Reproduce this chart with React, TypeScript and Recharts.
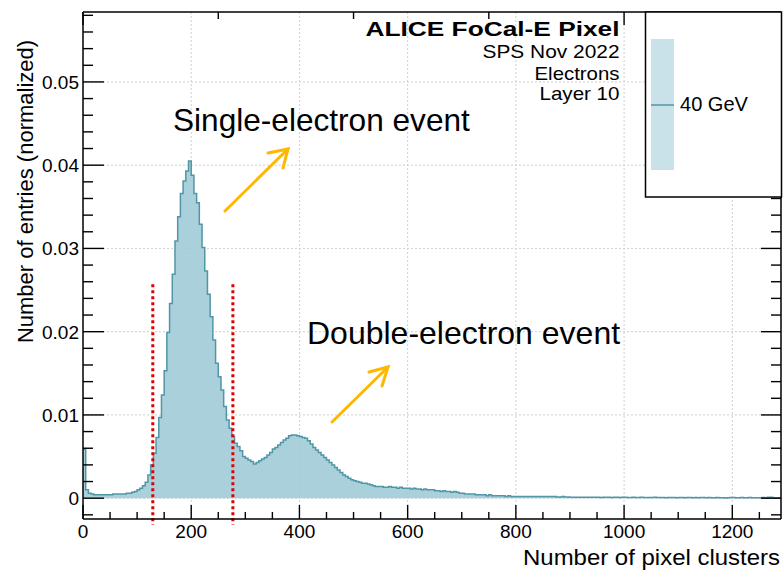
import React from 'react';
import { AreaChart, Area, XAxis, YAxis, CartesianGrid, ReferenceLine } from 'recharts';

// ---------- data ----------
const BIN_WIDTH = 5;
const X_MAX = 1290;
const Y_DOMAIN: [number, number] = [-0.0025, 0.0584];

// normalized entries per 5-cluster bin
const entriesLow = [
  0.0059, 0.0010, 0.0006, 0.0005, 0.0004, 0.0004, 0.0004, 0.0004, 0.0004, 0.0004,
  0.0004, 0.0005, 0.0005, 0.0005, 0.0005, 0.0005, 0.0006, 0.0006, 0.0007, 0.0008,
  0.0010, 0.0012, 0.0015, 0.0019, 0.0028, 0.0040, 0.0054, 0.0073, 0.0097, 0.0124,
];
const entriesPeak = [
  0.0153, 0.0199, 0.0234, 0.0269, 0.0309, 0.0338, 0.0366, 0.0381, 0.0393, 0.0405,
  0.0388, 0.0366, 0.0355, 0.0329, 0.0301, 0.0273, 0.0245, 0.0218, 0.0190, 0.0162,
  0.0146, 0.0130, 0.0110, 0.0094, 0.0084, 0.0074, 0.0066, 0.0062, 0.0057, 0.0050,
];
const entriesSecond = [
  0.0048, 0.0046, 0.0044, 0.0041, 0.0043, 0.0045, 0.0047, 0.0049, 0.0052, 0.0055,
  0.0059, 0.0061, 0.0064, 0.0067, 0.0070, 0.0072, 0.0075, 0.0076, 0.0076, 0.0075,
  0.0074, 0.0073, 0.0072, 0.0069, 0.0065, 0.0061, 0.0058, 0.0055, 0.0052, 0.0049,
  0.0046, 0.0043, 0.0040, 0.0037, 0.0034, 0.0031, 0.0028, 0.0026, 0.0024, 0.0022,
];
const entriesTail = [
  0.0021, 0.0020, 0.0019, 0.0018, 0.0018, 0.0017, 0.0016, 0.0015, 0.0014, 0.0014,
  0.0014, 0.0013, 0.0013, 0.0014, 0.0013, 0.0013, 0.0012, 0.0013, 0.0012, 0.0012,
  0.0012, 0.0011, 0.0012, 0.0011, 0.0011, 0.0010, 0.0011, 0.0010, 0.0010, 0.0010,
  0.0009, 0.0009, 0.0008, 0.0009, 0.0008, 0.0008, 0.0007, 0.0008, 0.0007, 0.0006,
  0.0006, 0.0005, 0.0005, 0.0005, 0.0005, 0.0004, 0.0004, 0.0004, 0.0004, 0.0003,
  0.0004, 0.0003, 0.0003, 0.0003, 0.0003, 0.0003, 0.0002, 0.0003, 0.0002, 0.0002,
  0.0002, 0.0002, 0.0002, 0.0002, 0.0002, 0.0002, 0.0002, 0.0002, 0.0002, 0.0002,
  0.0002, 0.0002, 0.0002, 0.0002, 0.0002, 0.00015, 0.00015, 0.0002, 0.00015, 0.00015,
];
const entriesFar = [
  0.00012, 0.00012, 0.0001, 0.00012, 0.0001, 0.0001, 0.00012, 0.0001, 0.0001, 0.0001,
  0.0001, 0.00008, 0.0001, 0.0001, 0.0001, 0.00008, 0.0001, 0.0001, 0.00008, 0.0001,
  0.0001, 0.00008, 0.00008, 0.0001, 0.00008, 0.00008, 0.0001, 0.00008, 0.00008, 0.00008,
  0.00008, 0.0001, 0.00008, 0.00008, 0.00008, 0.00006, 0.00008, 0.00008, 0.00008, 0.00006,
  0.00008, 0.00008, 0.00006, 0.00008, 0.00008, 0.00006, 0.00008, 0.00006, 0.00008, 0.00008,
  0.00006, 0.00008, 0.00006, 0.00006, 0.00008, 0.00006, 0.00004, 0.00002, 0.00004, 0.00008,
  0.00008, 0.00006, 0.00006, 0.00008, 0.00006, 0.00006, 0.00008, 0.00006, 0.00006, 0.00006,
  0.00006, 0.00008, 0.00004, 0.0001, 0.00012, 0.00004, 0.00002, 0.00006,
];

const entries = [...entriesLow, ...entriesPeak, ...entriesSecond, ...entriesTail, ...entriesFar];
const binStarts = entries.map((_, i) => i * BIN_WIDTH);
const histData = [
  ...binStarts.map((x, i) => ({ x, y: entries[i] })),
  { x: X_MAX, y: entries[entries.length - 1] },
];

// ticks
const xMajorTicks = [0, 200, 400, 600, 800, 1000, 1200];
const xAllTicks = Array.from({ length: 26 }, (_, i) => i * 50);
const yMajorTicks = [0, 0.01, 0.02, 0.03, 0.04, 0.05];
const yAllTicks = Array.from({ length: 31 }, (_, i) => +(-0.002 + i * 0.002).toFixed(3));

// selection cuts (red dotted)
const cutLow = 129;
const cutHigh = 277;
const cutTop = 0.0257;
const cutBottom = -0.0032;

const FONT = '"Liberation Sans", Arial, Helvetica, sans-serif';
const isMajorX = (v: number) => v % 200 === 0;
const isMajorY = (v: number) => Math.abs(v * 100 - Math.round(v * 100)) < 1e-6;
const fmtY = (v: number) => (Math.abs(v) < 1e-9 ? '0' : v.toFixed(2));

const BottomTick = (props: any) => {
  const { x, y, payload } = props;
  const v = payload.value;
  const major = isMajorX(v);
  return (
    <g>
      <line x1={x} x2={x} y1={y} y2={y - (major ? 14 : 7)} stroke="#000" strokeWidth={1.4} />
      {major && (
        <text x={x} y={y + 19} textAnchor="middle" fontSize={19} fontFamily={FONT} fill="#000">
          {v}
        </text>
      )}
    </g>
  );
};

const TopTick = (props: any) => {
  const { x, y, payload } = props;
  const major = isMajorX(payload.value);
  return <line x1={x} x2={x} y1={y} y2={y + (major ? 13 : 7)} stroke="#000" strokeWidth={1.4} />;
};

const LeftTick = (props: any) => {
  const { x, y, payload } = props;
  const v = payload.value;
  const major = isMajorY(v);
  return (
    <g>
      <line x1={x} x2={x + (major ? 21 : 10)} y1={y} y2={y} stroke="#000" strokeWidth={1.4} />
      {major && (
        <text x={x - 4} y={y} dy="0.36em" textAnchor="end" fontSize={19} fontFamily={FONT} fill="#000">
          {fmtY(v)}
        </text>
      )}
    </g>
  );
};

const RightTick = (props: any) => {
  const { x, y, payload } = props;
  const major = isMajorY(payload.value);
  return <line x1={x} x2={x - (major ? 20 : 10)} y1={y} y2={y} stroke="#000" strokeWidth={1.4} />;
};

const ORANGE = '#FFB800';

export default function App() {
  return (
    <div style={{ position: 'absolute', left: 0, top: 0, width: 784, height: 571, background: '#fff' }}>
      <AreaChart
        width={784}
        height={571}
        data={histData}
        margin={{ top: 0, right: 0, bottom: 0, left: 0 }}
      >
        <CartesianGrid
          stroke="#cfcfcf"
          strokeDasharray="2 2"
          horizontalValues={yMajorTicks}
          verticalValues={xMajorTicks.filter((v) => v > 0)}
        />
        <XAxis
          dataKey="x"
          type="number"
          domain={[0, X_MAX]}
          allowDataOverflow
          ticks={xAllTicks}
          interval={0}
          tickSize={0}
          tickMargin={0}
          tickLine={false}
          height={52}
          axisLine={{ stroke: '#000', strokeWidth: 1.5 }}
          tick={<BottomTick />}
        />
        <XAxis
          xAxisId="top"
          orientation="top"
          type="number"
          domain={[0, X_MAX]}
          allowDataOverflow
          ticks={xAllTicks}
          interval={0}
          tickSize={0}
          tickMargin={0}
          tickLine={false}
          height={12}
          axisLine={{ stroke: '#000', strokeWidth: 1.5 }}
          tick={<TopTick />}
        />
        <YAxis
          type="number"
          domain={Y_DOMAIN}
          allowDataOverflow
          ticks={yAllTicks}
          interval={0}
          tickSize={0}
          tickMargin={0}
          tickLine={false}
          width={83}
          axisLine={{ stroke: '#000', strokeWidth: 1.5 }}
          tick={<LeftTick />}
        />
        <YAxis
          yAxisId="right"
          orientation="right"
          type="number"
          domain={Y_DOMAIN}
          allowDataOverflow
          ticks={yAllTicks}
          interval={0}
          tickSize={0}
          tickMargin={0}
          tickLine={false}
          width={3}
          axisLine={{ stroke: '#000', strokeWidth: 1.5 }}
          tick={<RightTick />}
        />
        <Area
          type="stepAfter"
          dataKey="y"
          stroke="#5096a6"
          strokeWidth={1.5}
          fill="#a1cbd8"
          fillOpacity={0.9}
          isAnimationActive={false}
          dot={false}
          activeDot={false}
        />
        <ReferenceLine
          segment={[{ x: cutLow, y: cutTop }, { x: cutLow, y: cutBottom }]}
          stroke="#e00000"
          strokeWidth={3}
          strokeDasharray="3 3"
          ifOverflow="visible"
        />
        <ReferenceLine
          segment={[{ x: cutHigh, y: cutTop }, { x: cutHigh, y: cutBottom }]}
          stroke="#e00000"
          strokeWidth={3}
          strokeDasharray="3 3"
          ifOverflow="visible"
        />
      </AreaChart>

      <svg
        width={784}
        height={571}
        style={{ position: 'absolute', left: 0, top: 0, pointerEvents: 'none' }}
        fontFamily={FONT}
      >
        {/* axis titles */}
        <text x={33} y={191.5} transform="rotate(-90 33 191.5)" textAnchor="middle" fontSize={22} fill="#000">
          Number of entries (normalized)
        </text>
        <text x={780} y={565} textAnchor="end" fontSize={22} fill="#000" textLength={257} lengthAdjust="spacingAndGlyphs">
          Number of pixel clusters
        </text>

        {/* header */}
        <text x={619.5} y={35.5} textAnchor="end" fontSize={21} fontWeight="bold" fill="#000" textLength={254} lengthAdjust="spacingAndGlyphs">
          ALICE FoCal-E Pixel
        </text>
        <text x={619.5} y={57.5} textAnchor="end" fontSize={19} fill="#000" textLength={137} lengthAdjust="spacingAndGlyphs">
          SPS Nov 2022
        </text>
        <text x={619.5} y={80} textAnchor="end" fontSize={19} fill="#000" textLength={85} lengthAdjust="spacingAndGlyphs">
          Electrons
        </text>
        <text x={619.5} y={100} textAnchor="end" fontSize={19} fill="#000" textLength={80} lengthAdjust="spacingAndGlyphs">
          Layer 10
        </text>

        {/* legend */}
        <rect x={645.5} y={12} width={136} height={185} fill="#fff" stroke="#000" strokeWidth={1.5} />
        <rect x={651} y={39} width={23} height={131} fill="#c9e2ea" />
        <line x1={651} x2={674} y1={105} y2={105} stroke="#5096a6" strokeWidth={1.5} />
        <text x={680} y={110.5} fontSize={20.5} fill="#000" textLength={68} lengthAdjust="spacingAndGlyphs">
          40 GeV
        </text>

        {/* annotations */}
        <text x={173} y={131} fontSize={31.6} fill="#000">
          Single-electron event
        </text>
        <text x={307} y={344} fontSize={32} fill="#000">
          Double-electron event
        </text>
        <g stroke={ORANGE} strokeWidth={3} fill="none" strokeLinecap="round">
          <line x1={225} y1={211} x2={288} y2={149} />
          <polyline points="268,153 288,149 283,168" />
          <line x1={332} y1={422} x2={388} y2={367} />
          <polyline points="369,372 388,367 382,386" />
        </g>
      </svg>
    </div>
  );
}
